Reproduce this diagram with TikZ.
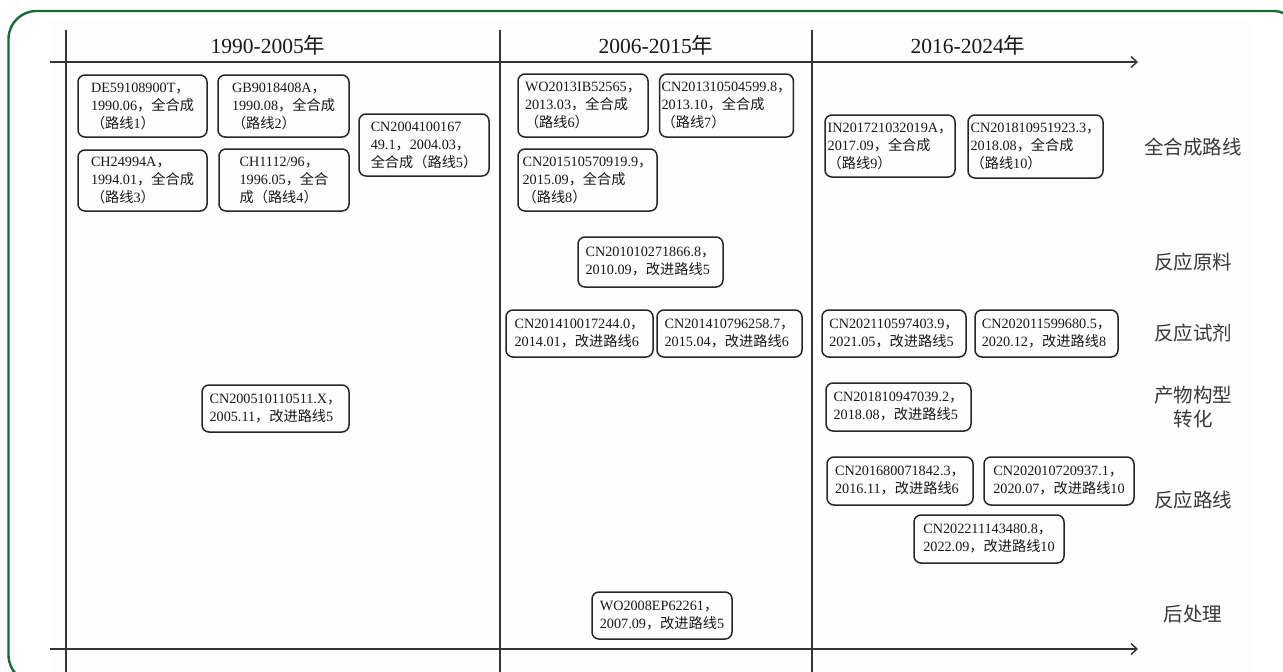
\documentclass[tikz,border=0pt]{standalone}
\usepackage{fontspec}
\setmainfont{Liberation Serif}
\newfontfamily\cjk{Noto Sans CJK SC}
\newcommand\zh[1]{{\cjk #1}}
\usetikzlibrary{arrows.meta}
\definecolor{framegreen}{RGB}{22,108,52}

\tikzset{
  patent/.style={draw=black!85, rounded corners=7pt, line width=1.5pt, align=left,
    inner sep=2pt, text=black!90, font=\fontsize{14.2}{18}\selectfont},
  period/.style={font=\fontsize{21.5}{24}\selectfont, text=black!90},
  field/.style={font=\cjk\fontsize{19.5}{24}\selectfont, text=black!78, align=center},
  axis/.style={line width=1.4pt, draw=black!80},
}

\begin{document}
\begin{tikzpicture}[x=1pt,y=-1pt]
            \useasboundingbox (0,0) rectangle (1283,672);
            \clip (0,0) rectangle (1283,672);
            \fill[black!0.8] (50,20) rectangle (1252,672);
            \draw[framegreen, line width=2.4pt, rounded corners=28pt] (8.5,11) rectangle (1301,683);

            % time axes
            \coordinate (t0) at (50,62);
            \coordinate (t1) at (1138,62);
            \coordinate (b0) at (50,649);
            \coordinate (b1) at (1138,649);
            \draw[axis,-{Straight Barb[length=6pt,width=11pt]}] (t0) -- (t1);
            \draw[axis,-{Straight Barb[length=6pt,width=11pt]}] (b0) -- (b1);
            \foreach \x in {66,500,812}
                \draw[axis] (\x,30) -- (\x,672);

            % periods
            \node[period] (p1) at (268,45) {1990-2005\zh{年}};
            \node[period] (p2) at (656,45) {2006-2015\zh{年}};
            \node[period] (p3) at (968,45) {2016-2024\zh{年}};

            % fields
            \foreach \y/\t in {147/全合成路线, 262/反应原料, 333/反应试剂,
                               407/{产物构型\\转化}, 500/反应路线, 614/后处理}
                \node[field] (f\y) at (1193,\y) {\t};

            % full synthesis
            \node[patent, minimum width=129, minimum height=62] (de) at (142.5,106)
                {DE59108900T\zh{，}\\1990.06\zh{，全合成}\\\zh{（路线}1\zh{）}};
            \node[patent, minimum width=131, minimum height=62] (gb) at (283.5,106)
                {GB9018408A\zh{，}\\1990.08\zh{，全合成}\\\zh{（路线}2\zh{）}};
            \node[patent, minimum width=129, minimum height=61] (cha) at (142.5,180.5)
                {CH24994A\zh{，}\\1994.01\zh{，全合成}\\\zh{（路线}3\zh{）}};
            \node[patent, minimum width=130, minimum height=62] (chb) at (284,180)
                {CH1112/96\zh{，}\\1996.05\zh{，全合}\\\zh{成（路线}4\zh{）}};
            \node[patent, minimum width=130, minimum height=62] (cn04) at (424,145)
                {CN2004100167\\49.1\zh{，}2004.03\zh{，}\\\zh{全合成（路线}5\zh{）}};
            \node[patent, minimum width=130, minimum height=63] (wo13) at (583,105.5)
                {WO2013IB52565\zh{，}\\2013.03\zh{，全合成}\\\zh{（路线}6\zh{）}};
            \node[patent, minimum width=133, minimum height=63] (cn13) at (726.5,105.5)
                {CN201310504599.8\zh{，}\\2013.10\zh{，全合成}\\\zh{（路线}7\zh{）}};
            \node[patent, minimum width=139, minimum height=62] (cn15) at (587.5,180)
                {CN201510570919.9\zh{，}\\2015.09\zh{，全合成}\\\zh{（路线}8\zh{）}};
            \node[patent, minimum width=130, minimum height=62] (in17) at (890,146)
                {IN201721032019A\zh{，}\\2017.09\zh{，全合成}\\\zh{（路线}9\zh{）}};
            \node[patent, minimum width=135, minimum height=63] (cn18a) at (1035.5,146.5)
                {CN201810951923.3\zh{，}\\2018.08\zh{，全合成}\\\zh{（路线}10\zh{）}};

            % improvements
            \node[patent, minimum width=145, minimum height=50] (cn10) at (650.5,262)
                {CN201010271866.8\zh{，}\\2010.09\zh{，改进路线}5};
            \node[patent, minimum width=147, minimum height=47] (cn14a) at (579.5,333.5)
                {CN201410017244.0\zh{，}\\2014.01\zh{，改进路线}6};
            \node[patent, minimum width=145, minimum height=47] (cn14b) at (729.5,333.5)
                {CN201410796258.7\zh{，}\\2015.04\zh{，改进路线}6};
            \node[patent, minimum width=144, minimum height=47] (cn21) at (894,333.5)
                {CN202110597403.9\zh{，}\\2021.05\zh{，改进路线}5};
            \node[patent, minimum width=143, minimum height=47] (cn20a) at (1046.5,333.5)
                {CN202011599680.5\zh{，}\\2020.12\zh{，改进路线}8};
            \node[patent, minimum width=147, minimum height=47] (cn05) at (275.5,408.5)
                {CN200510110511.X\zh{，}\\2005.11\zh{，改进路线}5};
            \node[patent, minimum width=145, minimum height=48] (cn18b) at (898.5,407)
                {CN201810947039.2\zh{，}\\2018.08\zh{，改进路线}5};
            \node[patent, minimum width=146, minimum height=48] (cn16) at (900,481)
                {CN201680071842.3\zh{，}\\2016.11\zh{，改进路线}6};
            \node[patent, minimum width=150, minimum height=48] (cn20b) at (1059,481)
                {CN202010720937.1\zh{，}\\2020.07\zh{，改进路线}10};
            \node[patent, minimum width=150, minimum height=48] (cn22) at (989,539)
                {CN202211143480.8\zh{，}\\2022.09\zh{，改进路线}10};
            \node[patent, minimum width=140, minimum height=47] (wo08) at (662,615.5)
                {WO2008EP62261\zh{，}\\2007.09\zh{，改进路线}5};
\end{tikzpicture}
\end{document}
